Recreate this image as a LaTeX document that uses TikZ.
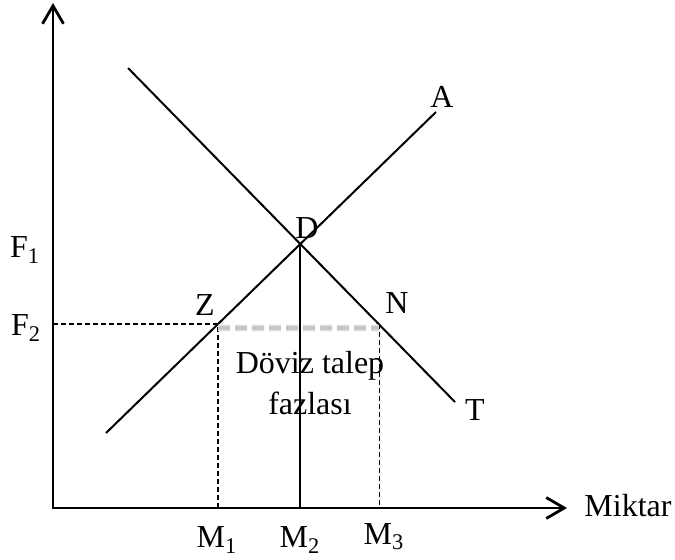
\documentclass[tikz,border=0pt]{standalone}
\usepackage{fontspec}
\setmainfont{Liberation Serif}
\usetikzlibrary{arrows.meta, intersections}

\begin{document}
\begin{tikzpicture}[x=0.5pt, y=-0.5pt, font=\fontsize{16}{20.5}\selectfont,
    axis/.style={line width=1.4pt, line join=miter,
      {Straight Barb[length=9pt,width=10.5pt,line width=1.4pt]}-{Straight Barb[length=9pt,width=10.5pt,line width=1.4pt]}},
    curve/.style={line width=1pt},
    guide/.style={line width=0.8pt, dash pattern=on 2.5pt off 1.5pt},
    excess/.style={line cap=butt, dash pattern=on 6pt off 2.5pt},
    lbl/.style={inner sep=0pt}]
  \useasboundingbox (0,0) rectangle (675,559);

  % eksenler
  \coordinate (O) at (53,508);
  \coordinate (yend) at (53,3);
  \coordinate (xend) at (567,508);
  \draw[axis] (yend) -- (O) -- (xend);

  % arz ve talep egrileri
  \draw[curve, name path=arz] (106,433) coordinate (A0) -- (436,112) coordinate (A1);
  \draw[curve, name path=talep] (128,68) coordinate (T0) -- (455,402) coordinate (T1);
  \path[name path=fiyat2] (53,324) -- (600,324);
  \path[name intersections={of=arz and talep, by=D}];
  \path[name intersections={of=arz and fiyat2, by=Z}];
  \path[name intersections={of=talep and fiyat2, by=N}];

  % denge ve fiyat F2
  \draw[curve] (D) -- (D |- O);
  \draw[guide] (O |- Z) -- (Z) -- (Z |- O);
  \draw[guide] ([xshift=0.5pt]N) -- ([xshift=0.5pt]N |- O);
  \draw[excess, gray!22, line width=3.4pt] ([yshift=-2pt]Z) -- ([yshift=-2pt]N);
  \draw[excess, gray!45, line width=1.8pt] ([yshift=-2pt]Z) -- ([yshift=-2pt]N);

  % etiketler
  \node[lbl] (F1) at (25,250) {F\textsubscript{1}};
  \node[lbl] (F2) at (26,328) {F\textsubscript{2}};
  \node[lbl] (Zl) at (205,305) {Z};
  \node[lbl] (Dl) at (307,228) {D};
  \node[lbl] (Nl) at (397,303) {N};
  \node[lbl] (Al) at (442,97) {A};
  \node[lbl] (Tl) at (475,410) {T};
  \node[lbl, align=center] (fark) at (310,383) {Döviz talep\\fazlası};
  \node[lbl] (M1) at (217,540) {M\textsubscript{1}};
  \node[lbl] (M2) at (300,540) {M\textsubscript{2}};
  \node[lbl] (M3) at (384,537) {M\textsubscript{3}};
  \node[lbl] (miktar) at (628,506) {Miktar};
\end{tikzpicture}
\end{document}
